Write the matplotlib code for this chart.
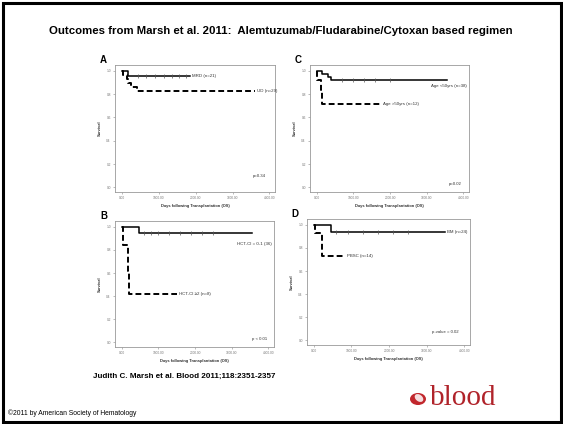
import matplotlib
matplotlib.use("Agg")
import matplotlib.pyplot as plt
from matplotlib.patches import Rectangle, Circle, Ellipse

plt.rcParams["font.family"] = ["Liberation Sans", "DejaVu Sans"]

W, H = 563, 424

# survival steps (days, survival)
mrd_t = [0, 160, 1860]
mrd_s = [1.0, 0.952, 0.952]
mrd_cens = [450, 650, 900, 1150, 1350, 1550, 1750]
ud_t = [0, 50, 150, 170, 260, 410, 3620]
ud_s = [1.0, 0.966, 0.931, 0.897, 0.862, 0.828, 0.828]

young_t = [0, 150, 300, 400, 3560]
young_s = [1.0, 0.974, 0.947, 0.921, 0.921]
young_cens = [700, 1000, 1300, 1600, 2000]
old_t = [0, 20, 110, 150, 1750]
old_s = [1.0, 0.917, 0.833, 0.714, 0.714]

hct_low_t = [0, 470, 3560]
hct_low_s = [1.0, 0.944, 0.944]
hct_low_cens = [600, 800, 1000, 1300, 1600, 1900, 2200, 2500]
hct_high_t = [0, 30, 170, 210, 1500]
hct_high_s = [1.0, 0.84, 0.62, 0.42, 0.42]

bm_t = [0, 460, 3490]
bm_s = [1.0, 0.94, 0.94]
bm_cens = [600, 900, 1300, 1700, 2100, 2500]
pbsc_t = [0, 20, 210, 830]
pbsc_s = [1.0, 0.929, 0.73, 0.73]

y_ticks = [0.0, 0.2, 0.4, 0.6, 0.8, 1.0]
x_ticks = [0, 1000, 2000, 3000, 4000]

fig = plt.figure(figsize=(W / 100, H / 100), dpi=100)


def px_axes(left, top, right, bottom):
    return fig.add_axes([left / W, 1 - bottom / H, (right - left) / W, (bottom - top) / H])


def km_panel(box, letter, curves, pval, pval_xy):
    ax = px_axes(*box)
    ax.set_xlim(-180, 4150)
    ax.set_ylim(-0.04, 1.05)
    for t, s, ls, lw, cens, label, lab_xy, ha in curves:
        ax.step(t, s, where="post", color="black", linestyle=ls, linewidth=lw,
                dashes=(3, 1.6) if ls == "--" else (None, None))
        if cens:
            ax.plot(cens, [s[-1]] * len(cens), linestyle="none", marker="|",
                    markersize=2.2, markeredgewidth=0.5, color="#555555")
        ax.text(lab_xy[0], lab_xy[1], label, fontsize=3.2, ha=ha, va="center",
                color="#333333")
    ax.text(pval_xy[0], pval_xy[1], pval, fontsize=3.1, ha="left", va="center",
            color="#333333")
    ax.set_xticks(x_ticks)
    ax.set_xticklabels([f"{v:.2f}" for v in x_ticks])
    ax.set_yticks(y_ticks)
    ax.set_yticklabels([f"{v:.1f}" for v in y_ticks])
    ax.tick_params(labelsize=2.3, length=1.5, width=0.4, pad=1.5,
                   colors="#888888", labelcolor="#777777")
    for sp in ax.spines.values():
        sp.set_color("#999999")
        sp.set_linewidth(0.6)
    ax.set_ylabel("Survival", fontsize=2.9, fontweight="bold", labelpad=3,
                  color="#333333")
    ax.set_xlabel("Days following Transplantation (OS)", fontsize=2.9,
                  fontweight="bold", labelpad=2.5, color="#333333")
    ax.text(-0.05, 1.0, letter, transform=ax.transAxes, fontsize=7,
            fontweight="bold", ha="right", va="bottom")
    return ax


km_panel((115, 65, 275, 192), "A", [
    (mrd_t, mrd_s, "-", 1.1, mrd_cens, "MRD (n=21)", (1900, 0.952), "left"),
    (ud_t, ud_s, "--", 1.4, None, "UD (n=29)", (3650, 0.828), "left"),
], "p=0.34", (3550, 0.1))

km_panel((310, 65, 469, 192), "C", [
    (young_t, young_s, "-", 1.1, young_cens, "Age <50yrs (n=38)", (4100, 0.87), "right"),
    (old_t, old_s, "--", 1.4, None, "Age >50yrs (n=12)", (1800, 0.714), "left"),
], "p=0.02", (3600, 0.03))

km_panel((115, 221, 274, 347), "B", [
    (hct_low_t, hct_low_s, "-", 1.1, hct_low_cens, "HCT-CI = 0-1 (36)", (4100, 0.85), "right"),
    (hct_high_t, hct_high_s, "--", 1.4, None, "HCT-CI \u22652 (n=8)", (1560, 0.42), "left"),
], "p < 0.01", (3550, 0.03))

km_panel((307, 219, 470, 345), "D", [
    (bm_t, bm_s, "-", 1.1, bm_cens, "BM (n=24)", (3550, 0.94), "left"),
    (pbsc_t, pbsc_s, "--", 1.4, None, "PBSC (n=14)", (870, 0.73), "left"),
], "p-value = 0.02", (3150, 0.07))

fig.text(281 / W, 1 - 31 / H,
         "Outcomes from Marsh et al. 2011:  Alemtuzumab/Fludarabine/Cytoxan based regimen",
         ha="center", va="center", fontsize=8.2, fontweight="bold")
fig.text(93 / W, 1 - 376 / H, "Judith C. Marsh et al. Blood 2011;118:2351-2357",
         ha="left", va="center", fontsize=5.8, fontweight="bold")
fig.text(8 / W, 1 - 413 / H, "\u00a92011 by American Society of Hematology",
         ha="left", va="center", fontsize=4.9)

# journal logo
fig.patches.append(Circle((418 / W, 1 - 399 / H), 8 / W, transform=fig.transFigure,
                          facecolor="#c1272d", edgecolor="none"))
fig.patches.append(Ellipse((419 / W, 1 - 398 / H), 7.5 / W, 8.5 / H, angle=30,
                           transform=fig.transFigure, facecolor="white",
                           edgecolor="none", alpha=0.85))
fig.text(430 / W, 1 - 398 / H, "blood", ha="left", va="center", fontsize=21,
         family="Liberation Serif", color="#b0232a")

# slide frame
fig.patches.append(Rectangle((2.5 / W, 2.5 / H), (W - 5) / W, (H - 5) / H,
                             transform=fig.transFigure, fill=False,
                             edgecolor="black", linewidth=2.2))

fig.savefig("out.png", dpi=100)
